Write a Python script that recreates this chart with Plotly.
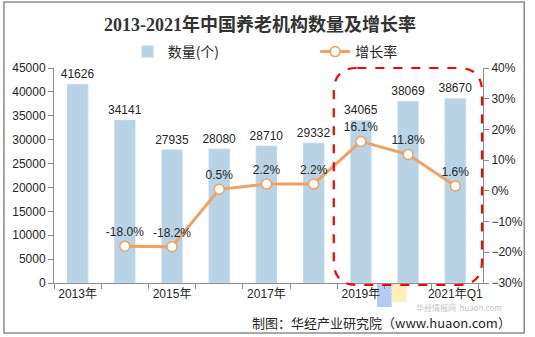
import plotly.graph_objects as go

categories = ['2013年', '2014年', '2015年', '2016年', '2017年', '2018年', '2019年', '2020年', '2021年Q1']
counts = [41626, 34141, 27935, 28080, 28710, 29332, 34065, 38069, 38670]
growth_cats = categories[1:]
growth = [-0.180, -0.182, 0.005, 0.022, 0.022, 0.161, 0.118, 0.016]
growth_labels = ['-18.0%', '-18.2%', '0.5%', '2.2%', '2.2%', '16.1%', '11.8%', '1.6%']
tick_text = ['2013年', '', '2015年', '', '2017年', '', '2019年', '', '2021年Q1']

W, H = 535, 337
L, R, T, B = 53, 45, 68, 54
PW, PH = W - L - R, H - T - B

def px(x):
    return (x - L) / PW

def py(y):
    return (H - B - y) / PH

TXT = '#262626'
FONT = 'Liberation Sans, Noto Sans CJK SC, sans-serif'

fig = go.Figure()
fig.add_trace(go.Bar(
    x=categories, y=counts, name='数量(个)', marker_color='#B8D3E5',
    text=[str(v) for v in counts], textposition='outside', cliponaxis=False,
    constraintext='none',
    textfont=dict(size=12, color=TXT, family=FONT), yaxis='y', legend='legend'))
fig.add_trace(go.Scatter(
    x=growth_cats, y=growth, name='增长率', mode='lines+markers+text',
    line=dict(color='#F0A062', width=3),
    marker=dict(size=10, color='white', line=dict(color='#F0A062', width=1.5)),
    text=growth_labels, textposition='top center', cliponaxis=False,
    textfont=dict(size=12, color=TXT, family=FONT), yaxis='y2', legend='legend2'))

# rounded dashed highlight rectangle
x0, x1, y0, y1 = px(338), px(489), py(285), py(68)
rx, ry = 24 / PW, 24 / PH
path = (f'M {x0+rx},{y1} L {x1-rx},{y1} Q {x1},{y1} {x1},{y1-ry} '
        f'L {x1},{y0+ry} Q {x1},{y0} {x1-rx},{y0} L {x0+rx},{y0} '
        f'Q {x0},{y0} {x0},{y0+ry} L {x0},{y1-ry} Q {x0},{y1} {x0+rx},{y1} Z')
shapes = [
    dict(type='path', path=path, xref='paper', yref='paper',
         line=dict(color='#FF0000', width=2.2, dash='dash')),
    dict(type='rect', xref='paper', yref='paper', x0=px(2), x1=px(532), y0=py(333), y1=py(2),
         line=dict(color='#8C8C8C', width=1.5), layer='below'),
    dict(type='rect', xref='paper', yref='paper', x0=px(382), x1=px(397), y0=py(307), y1=py(284),
         line=dict(width=0), fillcolor='rgba(120,160,240,0.55)', layer='below'),
    dict(type='rect', xref='paper', yref='paper', x0=px(397), x1=px(412), y0=py(302), y1=py(284),
         line=dict(width=0), fillcolor='rgba(255,225,130,0.55)', layer='below'),
]

annotations = [
    dict(text='华经情报网  huaon.com', xref='paper', yref='paper', x=px(466), y=py(307.5),
         showarrow=False, borderpad=0,
         font=dict(size=8, color='rgba(150,150,150,0.6)', family='Noto Sans CJK SC'),
         xanchor='center', yanchor='middle'),
    dict(text='制图：华经产业研究院（www.huaon.com）', xref='paper', yref='paper',
         x=px(253), y=py(322), showarrow=False, xanchor='left', yanchor='middle',
         font=dict(size=13, color=TXT, family='Noto Sans CJK SC')),
]

leg_common = dict(orientation='h', yanchor='middle', xanchor='left',
                  font=dict(size=14, color=TXT, family='Noto Sans CJK SC'),
                  bgcolor='rgba(0,0,0,0)')

fig.update_layout(
    width=W, height=H, margin=dict(l=L, r=R, t=T, b=B),
    paper_bgcolor='white', plot_bgcolor='white',
    title=dict(text='<b>2013-2021年中国养老机构数量及增长率</b>', x=0.486, xanchor='center',
               y=1 - 25 / H, yanchor='middle',
               font=dict(size=18, color='#333333', family='Liberation Serif, Noto Sans CJK SC, serif')),
    legend=dict(x=px(128), y=py(52), **leg_common),
    legend2=dict(x=px(319), y=py(52), **leg_common),
    bargap=0.55,
    showlegend=True,
    xaxis=dict(type='category', tickmode='array', tickvals=categories, ticktext=tick_text,
               tickson='boundaries', ticks='outside', ticklen=5, tickcolor='#8C8C8C',
               tickangle=0,
               showline=True, linecolor='#8C8C8C', linewidth=1, showgrid=False,
               tickfont=dict(size=12, color=TXT, family=FONT)),
    yaxis=dict(range=[0, 45000], dtick=5000, ticks='outside', ticklen=5, tickcolor='#8C8C8C',
               showline=True, linecolor='#8C8C8C', linewidth=1, showgrid=False, zeroline=False,
               tickformat='d', tickfont=dict(size=12, color=TXT, family=FONT)),
    yaxis2=dict(range=[-0.3, 0.4], dtick=0.1, tickformat='.0%', overlaying='y', side='right',
                ticks='outside', ticklen=5, tickcolor='#8C8C8C', showline=True,
                linecolor='#8C8C8C', linewidth=1, showgrid=False, zeroline=False,
                tickfont=dict(size=12, color=TXT, family=FONT)),
    shapes=shapes, annotations=annotations,
)

fig.write_html('out.html')
